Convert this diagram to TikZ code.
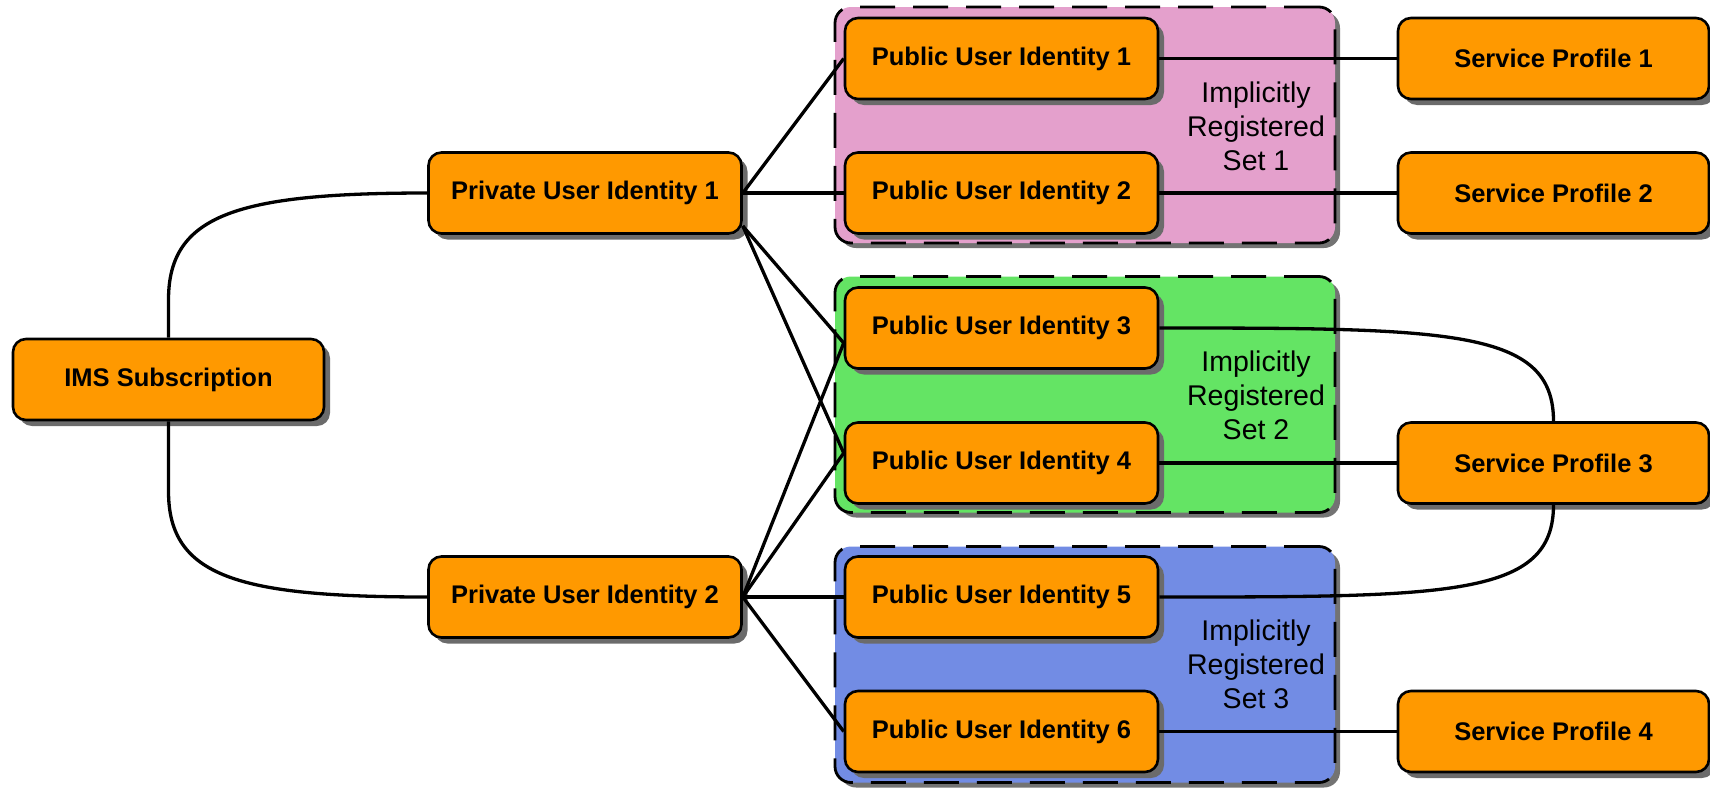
\documentclass[tikz,border=0pt]{standalone}
\usepackage{fontspec}
\setmainfont{Liberation Sans}
\usetikzlibrary{shadows}
\definecolor{orng}{RGB}{255,153,0}
\definecolor{pinkset}{RGB}{228,160,204}
\definecolor{greenset}{RGB}{100,228,100}
\definecolor{blueset}{RGB}{114,140,228}
\tikzset{
  box/.style={draw=black, line width=2.6pt, fill=orng, rounded corners=13pt,
    minimum width=313pt, minimum height=81pt, inner sep=0pt,
    font=\fontsize{25.5}{30}\selectfont\bfseries,
    drop shadow={shadow xshift=6pt, shadow yshift=-6pt, fill=black!58, opacity=1}},
  grp/.style={draw=black, line width=2.8pt, dash pattern=on 35pt off 18pt,
    rounded corners=16pt, minimum width=500pt, minimum height=236pt, inner sep=0pt,
    drop shadow={shadow xshift=5pt, shadow yshift=-5pt, fill=black!55, opacity=1}},
  settext/.style={align=center, inner sep=0pt, font=\fontsize{28.5}{34}\selectfont},
  conn/.style={line width=3.3pt}
}
\begin{document}
\begin{tikzpicture}[x=1pt,y=-1pt]
\useasboundingbox (0,0) rectangle (1710,788);
% groups
\node[grp, fill=pinkset]  (G1) at (1085,125) {};
\node[grp, fill=greenset] (G2) at (1085,394.5) {};
\node[grp, fill=blueset]  (G3) at (1085,664.5) {};
\node[settext] (T1) at (1256,126) {Implicitly\\Registered\\Set 1};
\node[settext] (T2) at (1256,395) {Implicitly\\Registered\\Set 2};
\node[settext] (T3) at (1256,664) {Implicitly\\Registered\\Set 3};
% nodes
\node[box, minimum width=311pt] (IMS) at (168.5,379.5) {IMS Subscription};
\node[box] (P1) at (585,193) {Private User Identity 1};
\node[box] (P2) at (585,597) {Private User Identity 2};
\node[box] (PU1) at (1001.5,58.5) {Public User Identity 1};
\node[box] (PU2) at (1001.5,193) {Public User Identity 2};
\node[box] (PU3) at (1001.5,328) {Public User Identity 3};
\node[box] (PU4) at (1001.5,463) {Public User Identity 4};
\node[box] (PU5) at (1001.5,597) {Public User Identity 5};
\node[box] (PU6) at (1001.5,731.5) {Public User Identity 6};
\node[box, minimum width=311pt] (SP1) at (1553.5,58.5) {Service Profile 1};
\node[box, minimum width=311pt] (SP2) at (1553.5,193) {Service Profile 2};
\node[box, minimum width=311pt] (SP3) at (1553.5,463) {Service Profile 3};
\node[box, minimum width=311pt] (SP4) at (1553.5,731.5) {Service Profile 4};
% connectors
\draw[conn] (IMS.north) -- ++(0,-38) .. controls +(0,-85) and +(-190,0) .. (P1.west);
\draw[conn] (IMS.south) -- ++(0,70) .. controls +(0,85) and +(-190,0) .. (P2.west);
\draw[conn] (P1.east) -- (PU1.west);
\draw[conn] (P1.east) -- (PU2.west);
\draw[conn] ([yshift=-33pt]P1.east) -- ([yshift=-15pt]PU3.west);
\draw[conn] ([yshift=-33pt]P1.east) -- ([yshift=10pt]PU4.west);
\draw[conn] (P2.east) -- ([yshift=-15pt]PU3.west);
\draw[conn] (P2.east) -- ([yshift=10pt]PU4.west);
\draw[conn] (P2.east) -- (PU5.west);
\draw[conn] (P2.east) -- (PU6.west);
\draw[conn] (PU1.east) -- (SP1.west);
\draw[conn] (PU2.east) -- (SP2.west);
\draw[conn] (PU4.east) -- (SP3.west);
\draw[conn] (PU6.east) -- (SP4.west);
\draw[conn] (PU3.east) .. controls +(292,0) and +(0,-92) .. (SP3.north);
\draw[conn] (PU5.east) .. controls +(292,0) and +(0,92) .. (SP3.south);
\end{tikzpicture}
\end{document}
